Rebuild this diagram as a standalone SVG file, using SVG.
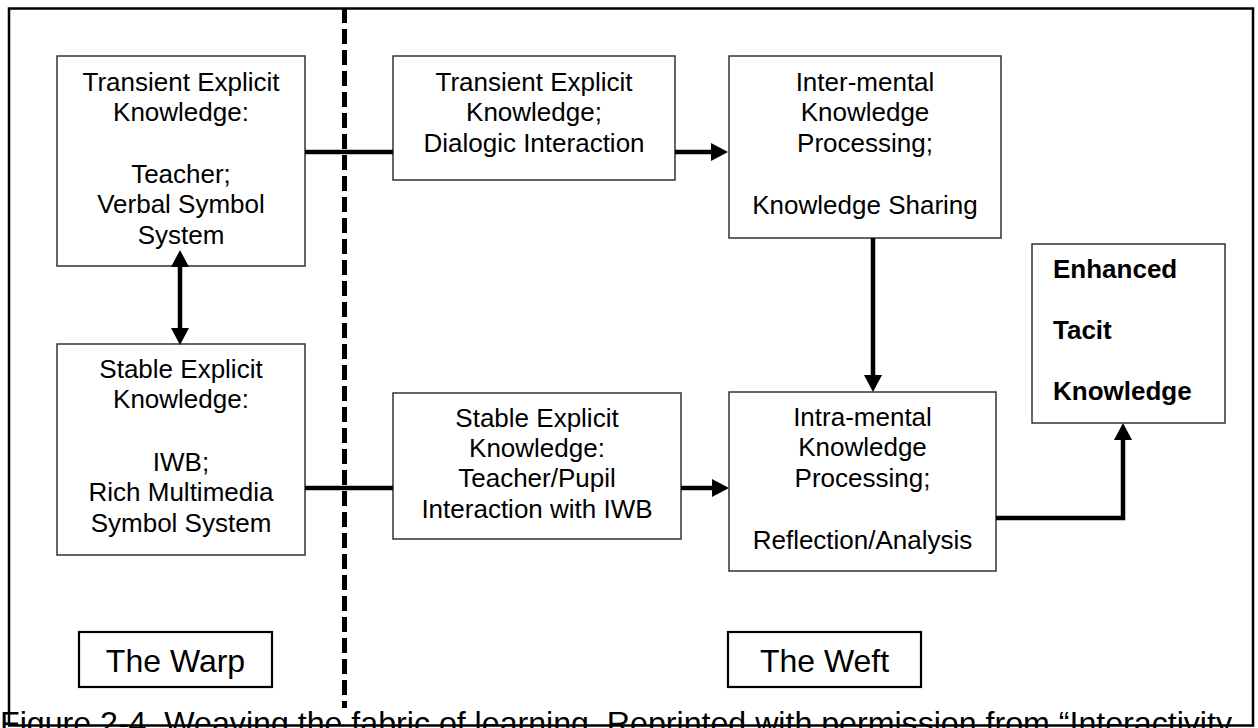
<svg xmlns="http://www.w3.org/2000/svg" width="1258" height="728" viewBox="0 0 1258 728">
<style>
  text { font-family: "Liberation Sans", Arial, sans-serif; fill: #000; }
  .t { font-size: 26px; text-anchor: middle; }
  .b { font-size: 26px; font-weight: bold; }
  .lbl { font-size: 32px; text-anchor: middle; }
  .cap { font-size: 32px; }
  .box { fill: #fff; stroke: #333; stroke-width: 1.5; }
  .lbox { fill: #fff; stroke: #000; stroke-width: 2.2; }
  .conn { fill: none; stroke: #000; stroke-width: 4.5; }
</style>
<defs>
  <marker id="ah" markerUnits="userSpaceOnUse" markerWidth="18" markerHeight="18" viewBox="0 0 17 18" refX="5" refY="9" orient="auto">
    <path d="M0,0 L17,9 L0,18 z" fill="#000"/>
  </marker>
  <marker id="ahs" markerUnits="userSpaceOnUse" markerWidth="18" markerHeight="18" viewBox="0 0 17 18" refX="5" refY="9" orient="auto-start-reverse">
    <path d="M0,0 L17,9 L0,18 z" fill="#000"/>
  </marker>
</defs>
<rect x="0" y="0" width="1258" height="728" fill="#fff"/>
<rect id="frame" x="9" y="8.5" width="1244" height="717" fill="none" stroke="#000" stroke-width="2.5"/>

<g id="node-transient-warp">
  <rect class="box" x="57" y="56" width="248" height="210"/>
  <text class="t" x="181" y="91">Transient Explicit</text>
  <text class="t" x="181" y="121">Knowledge:</text>
  <text class="t" x="181" y="183">Teacher;</text>
  <text class="t" x="181" y="213">Verbal Symbol</text>
  <text class="t" x="181" y="244">System</text>
</g>

<g id="node-stable-warp">
  <rect class="box" x="57" y="344" width="248" height="211"/>
  <text class="t" x="181" y="378">Stable Explicit</text>
  <text class="t" x="181" y="408">Knowledge:</text>
  <text class="t" x="181" y="471">IWB;</text>
  <text class="t" x="181" y="501">Rich Multimedia</text>
  <text class="t" x="181" y="532">Symbol System</text>
</g>

<g id="node-transient-weft">
  <rect class="box" x="393" y="56" width="282" height="124"/>
  <text class="t" x="534" y="91">Transient Explicit</text>
  <text class="t" x="534" y="121">Knowledge;</text>
  <text class="t" x="534" y="152">Dialogic Interaction</text>
</g>

<g id="node-inter-mental">
  <rect class="box" x="729" y="56" width="272" height="182"/>
  <text class="t" x="865" y="91">Inter-mental</text>
  <text class="t" x="865" y="121">Knowledge</text>
  <text class="t" x="865" y="152">Processing;</text>
  <text class="t" x="865" y="214">Knowledge Sharing</text>
</g>

<g id="node-stable-weft">
  <rect class="box" x="393" y="393" width="288" height="146"/>
  <text class="t" x="537" y="427">Stable Explicit</text>
  <text class="t" x="537" y="457">Knowledge:</text>
  <text class="t" x="537" y="487">Teacher/Pupil</text>
  <text class="t" x="537" y="518">Interaction with IWB</text>
</g>

<g id="node-intra-mental">
  <rect class="box" x="729" y="392" width="267" height="179"/>
  <text class="t" x="862.5" y="426">Intra-mental</text>
  <text class="t" x="862.5" y="456">Knowledge</text>
  <text class="t" x="862.5" y="487">Processing;</text>
  <text class="t" x="862.5" y="549">Reflection/Analysis</text>
</g>

<g id="node-enhanced">
  <rect class="box" x="1032" y="244" width="193" height="179"/>
  <text class="b" x="1053" y="278">Enhanced</text>
  <text class="b" x="1053" y="339">Tacit</text>
  <text class="b" x="1053" y="400">Knowledge</text>
</g>

<g id="label-warp">
  <rect class="lbox" x="79" y="632" width="193" height="55"/>
  <text class="lbl" x="175.5" y="672">The Warp</text>
</g>

<g id="label-weft">
  <rect class="lbox" x="728" y="632" width="193" height="55"/>
  <text class="lbl" x="824.5" y="672">The Weft</text>
</g>

<line id="divider" x1="344.5" y1="8" x2="344.5" y2="708" stroke="#000" stroke-width="5" stroke-dasharray="15 6"/>

<g id="connectors">
  <line class="conn" x1="305" y1="152" x2="393" y2="152"/>
  <line class="conn" x1="675" y1="152" x2="716" y2="152" marker-end="url(#ah)"/>
  <line class="conn" x1="873" y1="238" x2="873" y2="380" marker-end="url(#ah)"/>
  <line class="conn" x1="180" y1="262" x2="180" y2="333" marker-start="url(#ahs)" marker-end="url(#ah)"/>
  <line class="conn" x1="305" y1="488" x2="393" y2="488"/>
  <line class="conn" x1="681" y1="488" x2="717" y2="488" marker-end="url(#ah)"/>
  <polyline class="conn" points="996,518 1123,518 1123,435" marker-end="url(#ah)"/>
</g>

<text id="caption" class="cap" x="0" y="734" textLength="1232" lengthAdjust="spacingAndGlyphs">Figure 2-4.  Weaving the fabric of learning.  Reprinted with permission from “Interactivity</text>
</svg>
